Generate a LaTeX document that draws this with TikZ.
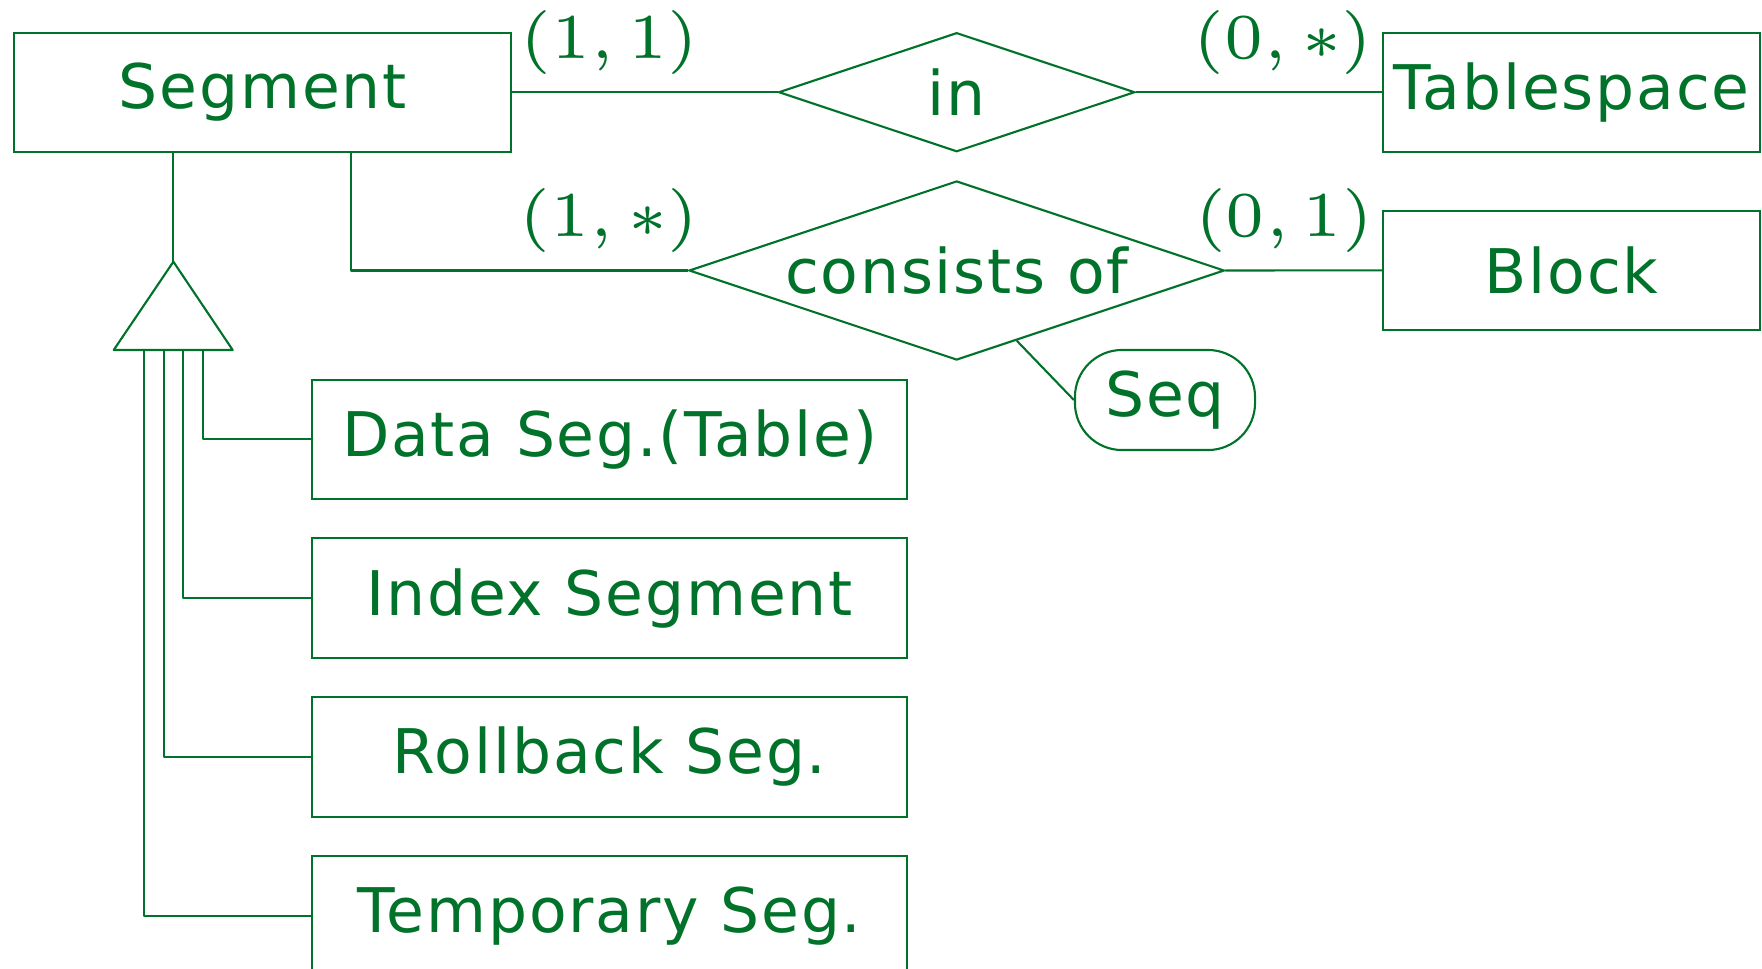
\documentclass[tikz,border=0pt]{standalone}
\usepackage[no-math]{fontspec}
\usepackage{graphicx}
\newfontfamily\dvsans[LetterSpace=3]{DejaVu Sans}
\usetikzlibrary{shapes.geometric,calc}
\definecolor{eg}{RGB}{0,114,41}
\newcommand{\card}[1]{\scalebox{3.03}{\fontsize{6}{7.2}\selectfont$#1$}}
\tikzset{
  every node/.style={text=eg},
  ent/.style={draw=eg, line width=0.6pt, rectangle, inner sep=0pt,
    font=\dvsans\fontsize{17.5}{21}\selectfont},
  rel/.style={draw=eg, line width=0.6pt, diamond, inner sep=0pt,
    font=\dvsans\fontsize{17.5}{21}\selectfont},
  attr/.style={draw=eg, line width=0.6pt, rectangle, rounded corners=0.47cm,
    inner sep=0pt, minimum width=1.8cm, minimum height=1cm,
    font=\dvsans\fontsize{17.5}{21}\selectfont},
  lab/.style={inner sep=0pt},
  conn/.style={draw=eg, line width=0.6pt, line join=round}
}
\begin{document}
\begin{tikzpicture}[x=0.01cm, y=-0.01cm]
\useasboundingbox (0,0) rectangle (1762,969);
\clip (0,0) rectangle (1762,969);
% entities
\node[ent, minimum width=4.965cm, minimum height=1.19cm] (seg) at (262.8,92.2) {Segment};
\node[ent, minimum width=3.767cm, minimum height=1.19cm] (ts) at (1571.5,92.2) {Tablespace};
\node[ent, minimum width=3.767cm, minimum height=1.193cm] (blk) at (1571.5,270.3) {Block};
% relationships
\node[rel, minimum width=3.56cm, minimum height=1.19cm, aspect=3] (in) at (956.7,92.2) {in};
\node[rel, minimum width=5.35cm, minimum height=1.79cm, aspect=3] (cons) at (956.7,270.5) {consists of};
% attribute
\node[attr] (seq) at (1165,400) {Seq};
% subclasses
\node[ent, minimum width=5.945cm, minimum height=1.195cm] (data) at (609.7,439.4) {Data Seg.(Table)};
\node[ent, minimum width=5.945cm, minimum height=1.195cm] (idx) at (609.7,598.2) {Index Segment};
\node[ent, minimum width=5.945cm, minimum height=1.195cm] (roll) at (609.7,757) {Rollback Seg.};
\node[ent, minimum width=5.945cm, minimum height=1.195cm] (temp) at (609.7,915.8) {Temporary Seg.};
% cardinalities
\node[lab] (c1) at (609.5,42.5) {\card{(1,1)}};
\node[lab] (c2) at (1283,42.5) {\card{(0,\ast)}};
\node[lab] (c3) at (609,220.8) {\card{(1,\ast)}};
\node[lab] (c4) at (1284,220.8) {\card{(0,1)}};
% connectors
\draw[conn] (seg.east) -- (in.west);
\draw[conn] (in.east) -- (ts.west);
\draw[conn] ([xshift=3.375cm]seg.south west) |- (cons.west);
\draw[conn] (cons.east) -- (blk.west);
\coordinate (sq) at ($(cons.south)!0.224!(cons.east)$);
\draw[conn] (sq) -- (seq.west);
% ISA triangle
\coordinate (apex) at (173.4,261.7);
\coordinate (bl) at (113.7,350);
\coordinate (br) at (232.7,350);
\draw[conn] (apex) -- (br) -- (bl) -- cycle;
\draw[conn] (seg.south -| apex) -- (apex);
\coordinate (b1) at (143.6,350);
\coordinate (b2) at (163.7,350);
\coordinate (b3) at (183.3,350);
\coordinate (b4) at (202.9,350);
\draw[conn] (b4) |- (data.west);
\draw[conn] (b3) |- (idx.west);
\draw[conn] (b2) |- (roll.west);
\draw[conn] (b1) |- (temp.west);
\end{tikzpicture}
\end{document}
